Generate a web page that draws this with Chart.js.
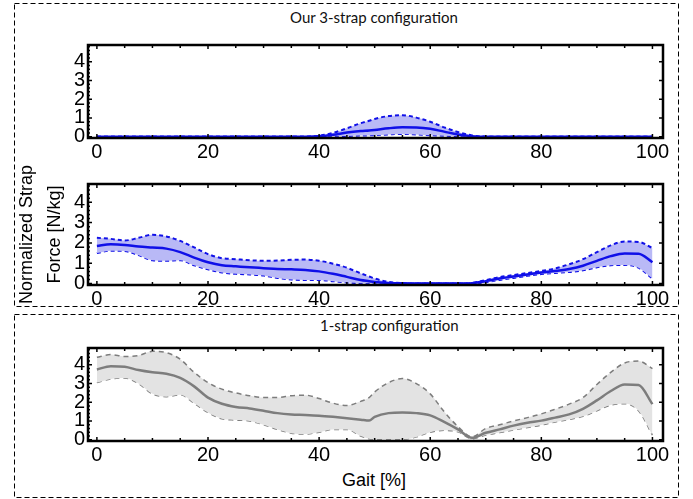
<!DOCTYPE html>
<html>
<head>
<meta charset="utf-8">
<script src="https://cdn.jsdelivr.net/npm/chart.js@4.4.1/dist/chart.umd.min.js"></script>
<style>
  body { margin: 0; background: #fff; width: 693px; height: 499px; position: relative; overflow: hidden; }
  canvas { position: absolute; left: 0; }
  svg { position: absolute; left: 0; top: 0; }
  .cap { position: absolute; font-family: Lato, "Open Sans", sans-serif; font-size: 15px; white-space: nowrap; color: #111; }
</style>
</head>
<body>
<svg width="693" height="499">
  <g fill="none" stroke="#000" stroke-width="1" stroke-dasharray="5,3">
    <rect x="14.5" y="3.5" width="664" height="303"></rect>
    <rect x="14.5" y="314.5" width="664" height="183"></rect>
  </g>
</svg>
<div class="cap" style="top:8px; left:290px">Our 3-strap configuration</div>
<div class="cap" style="top:316px; left:320px">1-strap configuration</div>
<canvas id="c1" width="693" height="130" style="top:30px"></canvas>
<canvas id="c2" width="693" height="170" style="top:150px"></canvas>
<canvas id="c3" width="693" height="130" style="top:333px"></canvas>

<script>
// gait cycle samples (%)
const gait = [0, 2.5, 5, 7.5, 10, 12.5, 15, 17.5, 20, 22.5, 25, 27.5, 30, 32.5, 35, 37.5, 40, 42.5, 45, 47.5, 49,
              50, 52.5, 55, 57.5, 60, 62.5, 65, 67.5, 70, 72.5, 75, 77.5, 80, 82.5, 85, 87.5, 90, 92.5, 95, 97.5, 100];

const xTicks = [0, 20, 40, 60, 80, 100];
const yTicks = [0, 1, 2, 3, 4];

// 3-strap, first strap
const s1Mean  = [0, 0, 0, 0, 0, 0, 0, 0, 0, 0, 0, 0, 0, 0, 0, 0, 0.02, 0.1, 0.22, 0.3, 0.33,
                 0.36, 0.45, 0.5, 0.49, 0.42, 0.27, 0.12, 0.03, 0, 0, 0, 0, 0, 0, 0, 0, 0, 0, 0, 0, 0];
const s1Upper = [0, 0, 0, 0, 0, 0, 0, 0, 0, 0, 0, 0, 0, 0, 0, 0, 0.05, 0.2, 0.45, 0.72, 0.85,
                 0.95, 1.1, 1.15, 1.02, 0.8, 0.5, 0.25, 0.07, 0, 0, 0, 0, 0, 0, 0, 0, 0, 0, 0, 0, 0];
const s1Lower = [0, 0, 0, 0, 0, 0, 0, 0, 0, 0, 0, 0, 0, 0, 0, 0, 0, 0.02, 0.04, 0.06, 0.07,
                 0.08, 0.12, 0.15, 0.12, 0.08, 0.05, 0.03, 0, 0, 0, 0, 0, 0, 0, 0, 0, 0, 0, 0, 0, 0];

// 3-strap, second strap
const s2Mean  = [1.85, 1.93, 1.9, 1.82, 1.77, 1.72, 1.55, 1.28, 1.05, 0.9, 0.85, 0.8, 0.76, 0.72, 0.7, 0.67, 0.6, 0.48, 0.33, 0.18, 0.12,
                 0.08, 0.03, 0.01, 0, 0, 0, 0, 0.02, 0.12, 0.25, 0.35, 0.45, 0.55, 0.62, 0.72, 0.88, 1.12, 1.35, 1.48, 1.47, 1.05];
const s2Upper = [2.25, 2.2, 2.12, 2.25, 2.4, 2.32, 2.1, 1.78, 1.45, 1.25, 1.2, 1.15, 1.12, 1.13, 1.17, 1.18, 1.12, 0.98, 0.78, 0.5, 0.35,
                 0.25, 0.08, 0.02, 0, 0, 0, 0, 0.03, 0.17, 0.32, 0.42, 0.52, 0.62, 0.75, 0.95, 1.2, 1.55, 1.88, 2.07, 2.05, 1.75];
const s2Lower = [1.5, 1.62, 1.6, 1.4, 1.15, 1.12, 1.15, 0.9, 0.7, 0.55, 0.48, 0.45, 0.4, 0.28, 0.2, 0.18, 0.18, 0.12, 0.05, 0.02, 0.01,
                 0, 0, 0, 0, 0, 0, 0, 0, 0.07, 0.18, 0.28, 0.38, 0.47, 0.52, 0.57, 0.65, 0.8, 0.9, 0.92, 0.78, 0.25];

// 1-strap
const oneMean  = [3.75, 3.93, 3.9, 3.72, 3.6, 3.52, 3.3, 2.85, 2.25, 1.92, 1.75, 1.67, 1.55, 1.42, 1.35, 1.32, 1.28, 1.22, 1.15, 1.07, 1.02,
                  1.22, 1.42, 1.45, 1.42, 1.3, 0.95, 0.55, 0.1, 0.37, 0.55, 0.75, 0.9, 1.02, 1.18, 1.35, 1.65, 2.1, 2.6, 2.95, 2.92, 1.9];
const oneUpper = [4.4, 4.55, 4.45, 4.5, 4.72, 4.65, 4.3, 3.6, 3.05, 2.7, 2.5, 2.35, 2.25, 2.25, 2.35, 2.38, 2.2, 1.95, 1.83, 2.05, 2.25,
                  2.55, 3.05, 3.27, 3.0, 2.45, 1.5, 0.7, 0.15, 0.6, 0.8, 1.0, 1.18, 1.38, 1.63, 1.9, 2.25, 2.95, 3.6, 4.1, 4.2, 3.8];
const oneLower = [3.05, 3.25, 3.3, 3.0, 2.45, 2.3, 2.4, 1.95, 1.45, 1.12, 1.05, 1.0, 0.8, 0.55, 0.35, 0.3, 0.4, 0.55, 0.55, 0.2, 0.05,
                  0.02, 0.02, 0.02, 0.15, 0.4, 0.5, 0.42, 0.05, 0.25, 0.38, 0.52, 0.65, 0.78, 0.95, 1.08, 1.25, 1.55, 1.85, 1.92, 1.55, 0.25];

const pts = arr => arr.map((v, i) => ({ x: gait[i], y: v }));

// box around plot area with inward ticks
const framePlugin = {
    id: 'frame',
    afterDatasetsDraw(chart) {
        const { ctx, chartArea: a, scales: { x, y } } = chart;
        ctx.save();
        ctx.strokeStyle = '#000';
        ctx.lineWidth = 1.5;
        ctx.beginPath();
        for (let v = 0; v <= 100; v += 5) {
            const px = x.getPixelForValue(v);
            const len = v % 20 === 0 ? 4 : 3;
            ctx.moveTo(px, a.bottom); ctx.lineTo(px, a.bottom - len);
            ctx.moveTo(px, a.top); ctx.lineTo(px, a.top + len);
        }
        for (let i = 0; i <= 24; i++) {
            const py = y.getPixelForValue(i * 0.2);
            const len = i % 5 === 0 ? 4 : 2;
            ctx.moveTo(a.left, py); ctx.lineTo(a.left + len, py);
            if (i % 5 === 0) { ctx.moveTo(a.right, py); ctx.lineTo(a.right - 4, py); }
        }
        ctx.stroke();
        ctx.lineWidth = 2.5;
        ctx.strokeRect(a.left, a.top, a.width, a.height);
        ctx.restore();
    }
};

function makeChart(id, mean, upper, lower, col, fillCol, dash, dashW, pad, yTitle) {
    return new Chart(document.getElementById(id), {
        type: 'line',
        data: {
            datasets: [
                { data: pts(mean), borderColor: col, borderWidth: 2.5, fill: false },
                { data: pts(upper), borderColor: col, borderWidth: dashW, borderDash: dash, fill: '+1', backgroundColor: fillCol },
                { data: pts(lower), borderColor: col, borderWidth: dashW, borderDash: dash, fill: false }
            ]
        },
        options: {
            responsive: false,
            animation: false,
            layout: { padding: { top: pad[0], right: 30, bottom: pad[1], left: 0 } },
            elements: { point: { radius: 0 }, line: { cubicInterpolationMode: 'monotone' } },
            plugins: { legend: { display: false }, tooltip: { enabled: false } },
            scales: {
                x: {
                    type: 'linear', min: -1.6, max: 101.9,
                    afterBuildTicks: s => { s.ticks = xTicks.map(v => ({ value: v })); },
                    afterFit: s => { s.height = 22; },
                    grid: { display: false, drawTicks: false },
                    border: { display: false },
                    ticks: { autoSkip: false, maxRotation: 0, padding: 2, color: '#000', font: { family: 'Liberation Sans', size: 20 } }
                },
                y: {
                    min: -0.07, max: 4.9,
                    afterBuildTicks: s => { s.ticks = yTicks.map(v => ({ value: v })); },
                    afterFit: s => { s.width = 88; },
                    grid: { display: false, drawTicks: false },
                    border: { display: false },
                    ticks: { autoSkip: false, padding: 3, color: '#000', font: { family: 'Liberation Sans', size: 20 } },
                    title: {
                        display: !!yTitle, text: yTitle || '', color: '#000',
                        padding: { top: 13, bottom: 0 },
                        font: { family: 'Liberation Sans', size: 18, lineHeight: 1.55 }
                    }
                }
            }
        },
        plugins: [framePlugin]
    });
}

makeChart('c1', s1Mean, s1Upper, s1Lower, '#1010e8', '#b9b9f6', [4, 3], 2, [8, 0]);
makeChart('c2', s2Mean, s2Upper, s2Lower, '#1010e8', '#b9b9f6', [4, 3], 2, [34, 13], ['Normalized Strap', 'Force [N/kg]']);
makeChart('c3', oneMean, oneUpper, oneLower, '#7d7d7d', '#e3e3e3', [5, 4], 1.5, [8, 0]);
</script>
<div class="cap" style="top:470px; left:342px; font-family:'Liberation Sans'; font-size:18px; color:#000">Gait [%]</div>
</body>
</html>
